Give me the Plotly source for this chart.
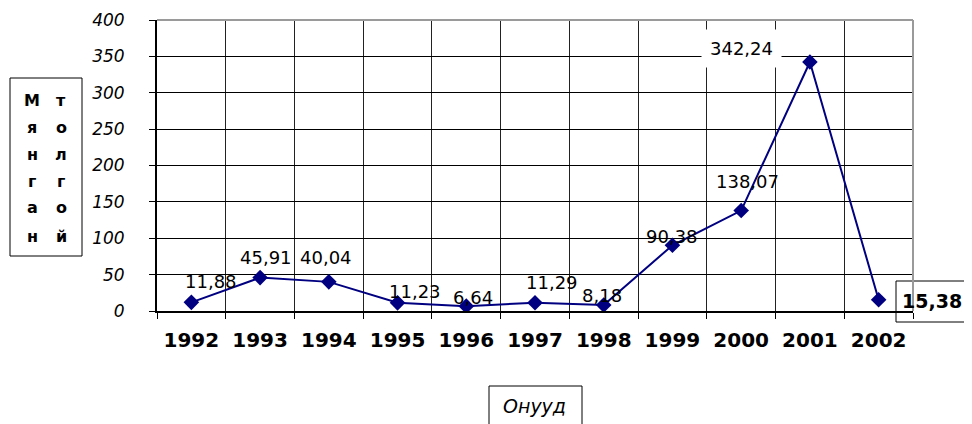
import plotly.graph_objects as go

years = ["1992", "1993", "1994", "1995", "1996", "1997", "1998", "1999", "2000", "2001", "2002"]
values = [11.88, 45.91, 40.04, 11.23, 6.64, 11.29, 8.18, 90.38, 138.07, 342.24, 15.38]
y_ticks = [0, 50, 100, 150, 200, 250, 300, 350, 400]
y_title_left = ["М", "я", "н", "г", "а", "н"]
y_title_right = ["т", "о", "л", "г", "о", "й"]
x_title = "Онууд"

# label offsets from the marker, in pixels (dx, dy up positive)
label_shift = [(20, 21), (6, 20), (-3, 24), (17, 11), (7, 9), (17, 20), (-2, 10),
               (0, 9), (6, 29), (-68, 14), (53, -1)]

NAVY = "#000080"
FONT = "DejaVu Sans, Arial, sans-serif"

# page body has an 8px margin: plot area sits at x 157..913, y 20..311 of the window
OFF = 8
W, H = 972 - OFF, 424 - OFF
PL, PR, PT, PB = 157 - OFF, 913 - OFF, 20 - OFF, 311 - OFF


def px(wx):
    return (wx - OFF - PL) / (PR - PL)


def py(wy):
    return (PB - (wy - OFF)) / (PB - PT)


fig = go.Figure()
fig.add_trace(go.Scatter(
    x=years, y=values,
    mode="lines+markers",
    line=dict(color=NAVY, width=2),
    marker=dict(symbol="diamond", size=12, color=NAVY),
    hoverinfo="skip",
    showlegend=False,
))

for i, v in enumerate(values):
    dx, dy = label_shift[i]
    txt = f"{v:.2f}".replace(".", ",")
    ann = dict(x=i, y=v, xref="x", yref="y", text=txt, showarrow=False,
               xshift=dx, yshift=dy, font=dict(family=FONT, size=18, color="black"))
    if i == 9:
        ann.update(bgcolor="white", borderpad=8)
    if i == len(values) - 1:
        ann.update(text=f"<b>{txt}</b>", font=dict(family=FONT, size=19, color="black"))
    fig.add_annotation(**ann)

# box around the last value label
fig.add_shape(type="rect", xref="paper", yref="paper",
              x0=px(896), x1=px(980), y0=py(322), y1=py(281),
              line=dict(color="black", width=1), fillcolor="white", layer="below")

# y-axis title box (two vertical columns)
fig.add_shape(type="rect", xref="paper", yref="paper",
              x0=px(10), x1=px(82), y0=py(256), y1=py(78),
              line=dict(color="black", width=1), fillcolor="white")
rows_y = [100, 127, 154, 181, 208, 236]
for col_x, letters in [(32, y_title_left), (61, y_title_right)]:
    for ry, ch in zip(rows_y, letters):
        fig.add_annotation(x=px(col_x), y=py(ry), xref="paper", yref="paper",
                           xanchor="center", yanchor="middle",
                           text=f"<b>{ch}</b>", showarrow=False,
                           font=dict(family=FONT, size=16, color="black"))

# x-axis title box
fig.add_shape(type="rect", xref="paper", yref="paper",
              x0=px(489), x1=px(582), y0=py(432), y1=py(386),
              line=dict(color="black", width=1), fillcolor="white")
fig.add_annotation(x=px(534), y=py(406), xref="paper", yref="paper",
                   xanchor="center", yanchor="middle",
                   text=f"<i>{x_title}</i>", showarrow=False,
                   font=dict(family=FONT, size=19, color="black"))

# top and right frame edges
for x0, y0, x1, y1 in [(0, 1, 1, 1), (1, 0, 1, 1)]:
    fig.add_shape(type="line", xref="paper", yref="paper", x0=x0, y0=y0, x1=x1, y1=y1,
                  line=dict(color="#9a9a9a", width=2))

fig.update_layout(
    width=W, height=H,
    margin=dict(l=PL, r=W - PR, t=PT, b=H - PB),
    plot_bgcolor="white", paper_bgcolor="white",
    xaxis=dict(
        type="category", tickson="boundaries", ticks="outside", ticklen=6,
        tickcolor="black", showgrid=True, gridcolor="#222222", gridwidth=1,
        showline=True, linecolor="black", linewidth=2, automargin=False,
        tickfont=dict(family=FONT, size=20, color="black", weight="bold"),
        ticklabelstandoff=10,
        range=[-0.5, 10.5], fixedrange=True,
    ),
    yaxis=dict(
        range=[0, 400], tickvals=y_ticks, ticks="outside", ticklen=6,
        tickcolor="black", showgrid=True, gridcolor="black", gridwidth=1,
        showline=True, linecolor="black", linewidth=2, zeroline=False,
        tickfont=dict(family=FONT, size=17, color="black", style="italic"),
        ticklabelstandoff=21, automargin=False,
    ),
)

fig.write_html("out.html")
